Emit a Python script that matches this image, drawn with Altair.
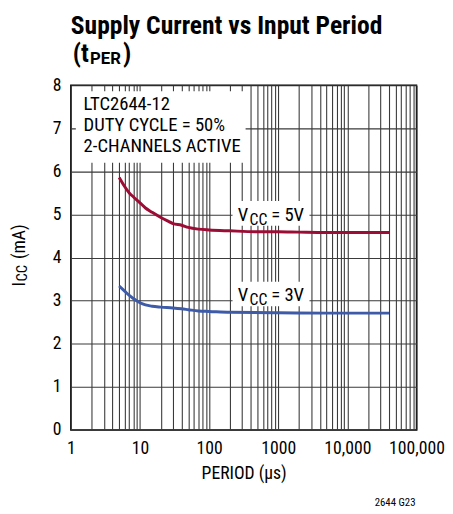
import altair as alt
import pandas as pd

FONT = "Roboto Condensed, Roboto, sans-serif"
WIDE = "Roboto, sans-serif"

# ---- data ----
periods_5v = [5, 6, 7, 8, 10, 12, 15, 20, 25, 30, 40, 50, 70, 100, 200, 500,
              1000, 2000, 5000, 10000, 20000, 40000]
icc_5v = [5.86, 5.65, 5.50, 5.41, 5.27, 5.15, 5.05, 4.93, 4.85, 4.79, 4.75, 4.70,
          4.66, 4.64, 4.62, 4.60, 4.60, 4.59, 4.58, 4.58, 4.58, 4.58]
periods_3v = [5, 6, 7, 8, 10, 12, 15, 20, 30, 40, 50, 70, 100, 200, 1000, 5000, 40000]
icc_3v = [3.34, 3.22, 3.12, 3.05, 2.95, 2.90, 2.87, 2.85, 2.83, 2.81, 2.79, 2.76,
          2.75, 2.73, 2.72, 2.71, 2.71]

series_names = ["5V", "3V"]
series_colors = ["#9b0d35", "#3d5ba8"]

x_tick_values = [m * 10 ** k for k in range(5) for m in range(1, 10)] + [100000]
y_tick_values = list(range(9))

title_line1 = "Supply Current vs Input Period"
note_lines = ["LTC2644-12", "DUTY CYCLE = 50%", "2-CHANNELS ACTIVE"]
note_y = [7.43, 6.94, 6.447]
footer = "2644 G23"

# annotation background boxes (data coordinates)
box_x1 = [1.18, 218, 218]
box_x2 = [337, 2830, 2830]
box_y1 = [6.2, 4.74, 2.87]
box_y2 = [7.86, 5.31, 3.44]

# series label anchors
lab_x = [260, 260]
lab_y = [4.852, 2.99]
lab_rest = ["= 5V", "= 3V"]

# ---- build tables ----
lines_df = pd.DataFrame({
    "period": periods_5v + periods_3v,
    "icc": icc_5v + icc_3v,
    "series": ["5V"] * len(periods_5v) + ["3V"] * len(periods_3v),
})
boxes_df = pd.DataFrame({"period": box_x1, "period2": box_x2, "icc": box_y1, "icc2": box_y2})
note_df = pd.DataFrame({"period": [1.53] * 3, "icc": note_y, "t": note_lines})
lab_df = pd.DataFrame({"period": lab_x, "icc": lab_y, "rest": lab_rest})

label_expr = ("indexof([1,10,100,1000,10000,100000], datum.value) >= 0 ? "
              "(datum.value >= 10000 ? format(datum.value, ',') : format(datum.value, 'd')) : ''")

GRID = "#3a3a3a"

x_enc = alt.X(
    "period:Q",
    scale=alt.Scale(type="log", domain=[1, 100000], nice=False),
    axis=alt.Axis(values=x_tick_values, labelExpr=label_expr, grid=True,
                  gridColor=GRID, gridWidth=1.1, ticks=False, tickSize=0,
                  domain=False, labelFont=FONT, labelFontSize=18, labelColor="black",
                  labelPadding=10, labelFlush=False, labelOverlap=False,
                  title="PERIOD (µs)", titleFont=FONT, titleFontSize=18,
                  titleFontWeight="normal", titleColor="black", titlePadding=8),
)
y_enc = alt.Y(
    "icc:Q",
    scale=alt.Scale(domain=[0, 8], nice=False),
    axis=alt.Axis(values=y_tick_values, grid=True, gridColor=GRID, gridWidth=1.1,
                  ticks=False, tickSize=0, domain=False, labelFont=FONT,
                  labelFontSize=18, labelColor="black", labelPadding=10,
                  labelFlush=False, title=None),
)

boxes = alt.Chart(boxes_df).mark_rect(fill="white").encode(
    x=x_enc, x2="period2:Q", y=y_enc, y2="icc2:Q")

lines = alt.Chart(lines_df).mark_line(strokeWidth=3, interpolate="monotone").encode(
    x=x_enc, y=y_enc,
    color=alt.Color("series:N", scale=alt.Scale(domain=series_names, range=series_colors),
                    legend=None),
    detail="series:N",
)

note = alt.Chart(note_df).mark_text(font=FONT, fontSize=19, align="left",
                                    baseline="alphabetic", color="black").encode(
    x=x_enc, y=y_enc, text="t:N")

lab_v = alt.Chart(lab_df).mark_text(font=FONT, fontSize=19, align="left",
                                    baseline="alphabetic", color="black").encode(
    x=x_enc, y=y_enc, text=alt.value("V"))
lab_cc = alt.Chart(lab_df).mark_text(font=FONT, fontSize=16, align="left",
                                     baseline="alphabetic", color="black",
                                     dx=12, dy=4).encode(
    x=x_enc, y=y_enc, text=alt.value("CC"))
lab_r = alt.Chart(lab_df).mark_text(font=FONT, fontSize=19, align="left",
                                    baseline="alphabetic", color="black",
                                    dx=34).encode(
    x=x_enc, y=y_enc, text="rest:N")


def piece(text, x, y, size, weight="normal", font=FONT, dx=0, dy=0, angle=0,
          align="left"):
    return alt.Chart(pd.DataFrame({"t": [text]})).mark_text(
        font=font, fontSize=size, fontWeight=weight, align=align,
        baseline="alphabetic", dx=dx, dy=dy, angle=angle, color="black",
    ).encode(x=alt.value(x), y=alt.value(y), text="t:N")


title_parts = [
    piece(title_line1, 0, -52, 26, "bold"),
    piece("(t", 2, -24, 26, "bold"),
    piece("PER", 19.5, -22, 17, "bold", font=WIDE),
    piece(")", 53, -24, 26, "bold"),
]
ytitle_parts = [
    piece("I", -47, 205, 18, angle=270),
    piece("CC", -47, 205, 15, angle=270, dx=5, dy=2),
    piece("(mA)", -47, 205, 18, angle=270, dx=28),
]
foot = piece(footer, 351, 428, 11, align="right")

chart = alt.layer(
    boxes, lines, note, lab_v, lab_cc, lab_r, *title_parts, *ytitle_parts, foot
).properties(
    width=352, height=351,
    autosize="none",
    padding={"left": 64, "top": 74, "right": 29, "bottom": 80},
).configure_view(stroke="black", strokeWidth=1.5)

chart.save("out.html", embed_options={"renderer": "svg", "actions": False})
